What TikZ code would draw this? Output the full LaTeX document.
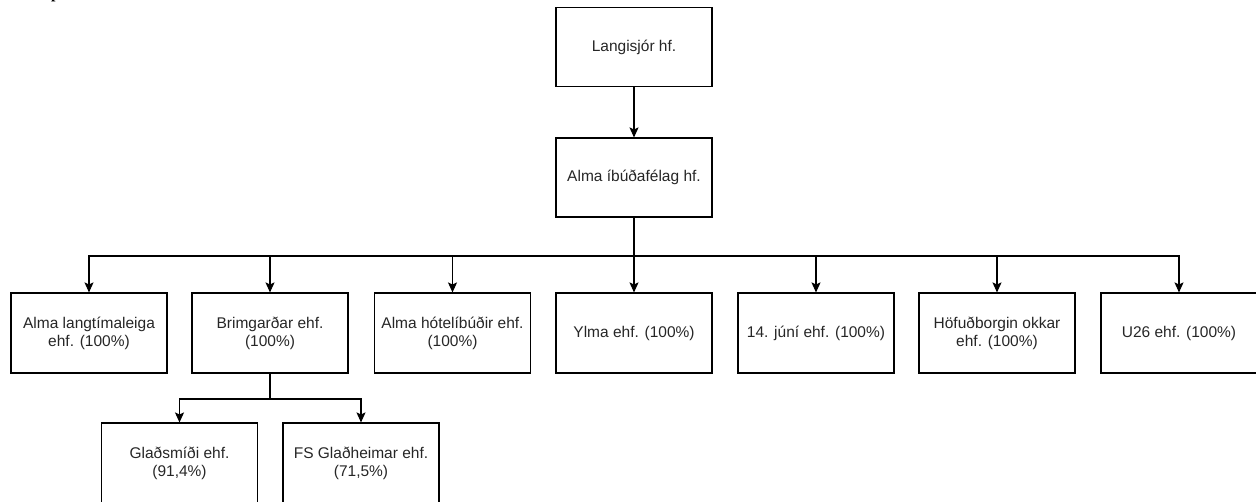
\documentclass[tikz,border=0pt]{standalone}
\usepackage{fontspec}
\setmainfont{Liberation Sans}
\newfontfamily\serifbold{Liberation Serif}
\usetikzlibrary{arrows.meta}
\tikzset{
  ent/.style={draw=black, line width=1.1pt, rectangle, minimum width=156pt, minimum height=79pt,
    inner sep=2pt, align=center, font=\fontsize{15.5}{18}\selectfont, text=black!85},
  arr/.style={draw=black, line width=1.1pt, -{Stealth[length=10pt,width=9pt,inset=2pt]}},
  ln/.style={draw=black, line width=1.1pt}
}
\begin{document}
\begin{tikzpicture}[x=1pt,y=-1pt]
\useasboundingbox (0,0) rectangle (1256,502);
% cropped heading fragment
\node[anchor=base west, inner sep=0, font=\serifbold\bfseries\fontsize{16}{18}\selectfont] (frag) at (51,-1.2) {p};
% top
\node[ent] (L) at (634,47) {Langisjór hf.};
\node[ent] (A) at (634,177.5) {Alma íbúðafélag hf.};
% row
\node[ent, minimum height=80pt] (c1) at (89,333) {Alma langtímaleiga\\ehf. (100\%)};
\node[ent, minimum height=80pt] (c2) at (270,333) {Brimgarðar ehf.\\(100\%)};
\node[ent, minimum height=80pt] (c3) at (452.5,333) {Alma hótelíbúðir ehf.\\(100\%)};
\node[ent, minimum height=80pt] (c4) at (634,333) {Ylma ehf. (100\%)};
\node[ent, minimum height=80pt] (c5) at (816,333) {14. júní ehf. (100\%)};
\node[ent, minimum height=80pt] (c6) at (997,333) {Höfuðborgin okkar\\ehf. (100\%)};
\node[ent, minimum height=80pt] (c7) at (1179,333) {U26 ehf. (100\%)};
% bottom
\node[ent, minimum height=80pt] (g1) at (179.5,463) {Glaðsmíði ehf.\\(91,4\%)};
\node[ent, minimum height=80pt] (g2) at (361,463) {FS Glaðheimar ehf.\\(71,5\%)};
% connectors
\coordinate (bus) at (634,256);
\coordinate (bus2) at (270,399);
\draw[arr] (L) -- (A);
\draw[ln] (A.south) -- (bus);
\foreach \c in {c1,c2,c3,c5,c6,c7}{
  \draw[arr] (bus) -| (\c.north);
}
\draw[arr] (bus) -- (c4.north);
\draw[ln] (c2.south) -- (bus2);
\draw[arr] (bus2) -| (g1.north);
\draw[arr] (bus2) -| (g2.north);
\end{tikzpicture}
\end{document}
